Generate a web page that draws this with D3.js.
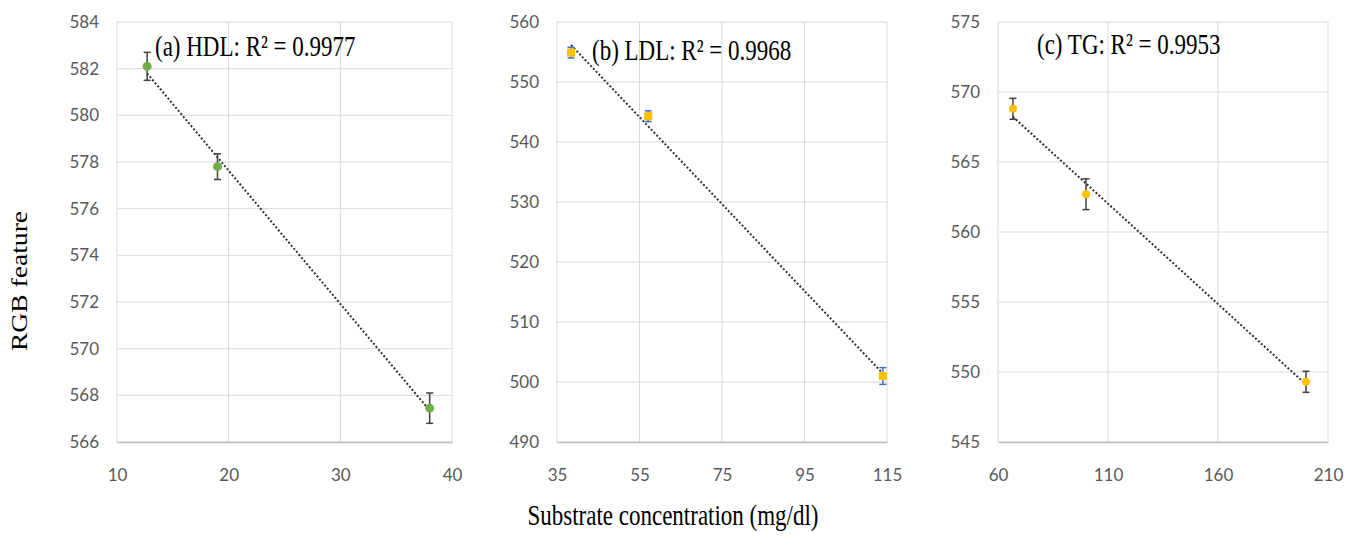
<!DOCTYPE html>
<html>
<head>
<meta charset="utf-8">
<script src="https://cdn.jsdelivr.net/npm/d3@7"></script>
<style>
body { margin: 0; background: #fff; }
.tick text { font-family: Lato, "Liberation Sans", sans-serif; font-size: 17px; fill: #595959; }
.title { font-family: "Liberation Serif", "DejaVu Serif", serif; fill: #000; }
</style>
</head>
<body>
<svg id="chart" width="1347" height="536"></svg>
<script>
// (a) HDL
const hdlX = [12.7, 19.0, 38.0];
const hdlY = [582.1, 577.8, 567.45];
const hdlErr = [0.6, 0.55, 0.65];
const hdlTicksX = [10, 20, 30, 40];
const hdlTicksY = [566, 568, 570, 572, 574, 576, 578, 580, 582, 584];

// (b) LDL
const ldlX = [38.4, 57.1, 114.0];
const ldlY = [554.9, 544.3, 501.0];
const ldlErr = [0.9, 0.9, 1.4];
const ldlTicksX = [35, 55, 75, 95, 115];
const ldlTicksY = [490, 500, 510, 520, 530, 540, 550, 560];

// (c) TG
const tgX = [66.8, 100.0, 200.0];
const tgY = [568.8, 562.7, 549.3];
const tgErr = [0.75, 1.1, 0.75];
const tgTicksX = [60, 110, 160, 210];
const tgTicksY = [545, 550, 555, 560, 565, 570, 575];

const labels = ["(a) HDL: R² = 0.9977", "(b) LDL: R² = 0.9968", "(c) TG: R² = 0.9953"];

const svg = d3.select("#chart");
const top_y = 22, bottom_y = 442;

function fitLine(xs, ys){
	const mx = d3.mean(xs), my = d3.mean(ys);
	let sxy = 0, sxx = 0;
	for (let i = 0; i < xs.length; i++){
		sxy += (xs[i]-mx)*(ys[i]-my);
		sxx += (xs[i]-mx)*(xs[i]-mx);
	}
	const b = sxy/sxx;
	return {b: b, a: my - b*mx};
}

function drawPanel(p){
	const x = d3.scaleLinear().domain(d3.extent(p.ticksX)).range([p.left, p.right]);
	const y = d3.scaleLinear().domain(d3.extent(p.ticksY)).range([bottom_y, top_y]);
	const g = svg.append("g");

	// gridlines
	g.selectAll(".gy").data(p.ticksY).enter().append("line")
		.attr("x1", p.left).attr("x2", p.right)
		.attr("y1", d => y(d)).attr("y2", d => y(d))
		.attr("stroke", "#d9d9d9").attr("stroke-width", 1);
	g.selectAll(".gx").data(p.ticksX).enter().append("line")
		.attr("y1", top_y).attr("y2", bottom_y)
		.attr("x1", d => x(d)).attr("x2", d => x(d))
		.attr("stroke", "#d9d9d9").attr("stroke-width", 1);

	// axes
	const ax = g.append("g").attr("transform", "translate(0," + bottom_y + ")")
		.call(d3.axisBottom(x).tickValues(p.ticksX).tickSize(0).tickPadding(27));
	ax.select(".domain").attr("stroke", "#bfbfbf").attr("stroke-width", 1.5);
	const ay = g.append("g").attr("transform", "translate(" + p.left + ",0)")
		.call(d3.axisLeft(y).tickValues(p.ticksY).tickSize(0).tickPadding(18));
	ay.select(".domain").remove();

	// trendline
	const f = fitLine(p.xs, p.ys);
	const x0 = d3.min(p.xs), x1 = d3.max(p.xs);
	g.append("line")
		.attr("x1", x(x0)).attr("y1", y(f.a + f.b*x0))
		.attr("x2", x(x1)).attr("y2", y(f.a + f.b*x1))
		.attr("stroke", "#333").attr("stroke-width", 2)
		.attr("stroke-dasharray", "2,2");

	const pts = p.xs.map((v, i) => ({x: v, y: p.ys[i], e: p.errs[i]}));

	// error bars
	const eb = g.selectAll(".eb").data(pts).enter().append("g");
	eb.append("line")
		.attr("x1", d => x(d.x)).attr("x2", d => x(d.x))
		.attr("y1", d => y(d.y + d.e)).attr("y2", d => y(d.y - d.e))
		.attr("stroke", p.errColor).attr("stroke-width", 1.5);
	[1, -1].forEach(s => {
		eb.append("line")
			.attr("x1", d => x(d.x) - 3.5).attr("x2", d => x(d.x) + 3.5)
			.attr("y1", d => y(d.y + s*d.e)).attr("y2", d => y(d.y + s*d.e))
			.attr("stroke", p.errColor).attr("stroke-width", 1.5);
	});

	// markers
	if (p.square){
		g.selectAll(".m").data(pts).enter().append("rect")
			.attr("x", d => x(d.x) - 4).attr("y", d => y(d.y) - 4)
			.attr("width", 8).attr("height", 8)
			.attr("fill", p.color);
	} else {
		g.selectAll(".m").data(pts).enter().append("circle")
			.attr("cx", d => x(d.x)).attr("cy", d => y(d.y))
			.attr("r", p.r).attr("fill", p.color);
	}

	// label is drawn taller than wide, like in the source figure
	g.append("text")
		.attr("class", "title")
		.attr("transform", "translate(" + p.tx + "," + p.ty + ") scale(1,1.3)")
		.attr("font-size", 23)
		.text(p.label);
}

drawPanel({left: 117, right: 452, ticksX: hdlTicksX, ticksY: hdlTicksY,
	xs: hdlX, ys: hdlY, errs: hdlErr, color: "#70ad47", errColor: "#404040",
	r: 4.5, square: false, label: labels[0], tx: 155, ty: 56});
drawPanel({left: 557, right: 887, ticksX: ldlTicksX, ticksY: ldlTicksY,
	xs: ldlX, ys: ldlY, errs: ldlErr, color: "#ffc000", errColor: "#4472c4",
	r: 4, square: true, label: labels[1], tx: 592, ty: 60});
drawPanel({left: 998, right: 1328, ticksX: tgTicksX, ticksY: tgTicksY,
	xs: tgX, ys: tgY, errs: tgErr, color: "#ffc000", errColor: "#404040",
	r: 4, square: false, label: labels[2], tx: 1037, ty: 54});

// axis titles
svg.append("text")
	.attr("class", "title")
	.attr("font-size", 23)
	.attr("text-anchor", "middle")
	.attr("transform", "translate(27,281) rotate(-90) scale(1.2,1)")
	.text("RGB feature");

svg.append("text")
	.attr("class", "title")
	.attr("font-size", 23)
	.attr("text-anchor", "middle")
	.attr("transform", "translate(673,525) scale(1,1.25)")
	.text("Substrate concentration (mg/dl)");
</script>
</body>
</html>
